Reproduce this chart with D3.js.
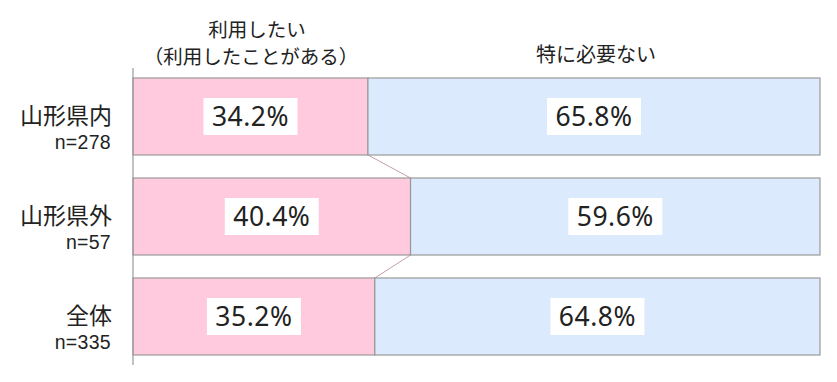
<!DOCTYPE html>
<html><head><meta charset="utf-8">
<script src="https://cdn.jsdelivr.net/npm/d3@7"></script>
<style>body{margin:0;background:#fff;}svg{display:block;}</style>
</head><body>
<script>
const categories = ["山形県内", "山形県外", "全体"];
const sampleSizes = ["n=278", "n=57", "n=335"];
const seriesNames = [["利用したい", "（利用したことがある）"], ["特に必要ない"]];
const wantValues = [34.2, 40.4, 35.2];
const noNeedValues = [65.8, 59.6, 64.8];

const W = 837, H = 382;
const font = "'Noto Sans CJK JP', 'Noto Sans', sans-serif";
const latin = "'Noto Sans', 'Noto Sans CJK JP', sans-serif";
const small = "'Liberation Sans', 'Noto Sans', sans-serif";
const svg = d3.select("body").append("svg").attr("width", W).attr("height", H);

const x = d3.scaleLinear().domain([0, 100]).range([133, 820]);
const y = d3.scaleBand().domain(categories).range([68, 365]).paddingInner(0.23).paddingOuter(0.1);

const pink = "#ffcade", blue = "#dbeafc", stroke = "#999999";

// connectors
for (let i = 0; i < categories.length - 1; i++) {
  svg.append("line")
    .attr("x1", x(wantValues[i])).attr("y1", y(categories[i]) + y.bandwidth())
    .attr("x2", x(wantValues[i + 1])).attr("y2", y(categories[i + 1]))
    .attr("stroke", "#c4a0a8").attr("stroke-width", 1);
}

categories.forEach((c, i) => {
  const y0 = y(c), h = y.bandwidth();
  svg.append("rect").attr("x", x(0)).attr("y", y0).attr("width", x(wantValues[i]) - x(0)).attr("height", h)
    .attr("fill", pink).attr("stroke", stroke).attr("stroke-width", 1.2);
  svg.append("rect").attr("x", x(wantValues[i])).attr("y", y0).attr("width", x(wantValues[i] + noNeedValues[i]) - x(wantValues[i])).attr("height", h)
    .attr("fill", blue).attr("stroke", stroke).attr("stroke-width", 1.2);

  const labels = [
    { cx: (x(0) + x(wantValues[i])) / 2, t: wantValues[i].toFixed(1) + "%" },
    { cx: (x(wantValues[i]) + x(100)) / 2, t: noNeedValues[i].toFixed(1) + "%" }
  ];
  labels.forEach(l => {
    const g = svg.append("g");
    g.append("rect").attr("x", l.cx - 47).attr("y", y0 + h / 2 - 18.5).attr("width", 94).attr("height", 37).attr("fill", "#fff");
    g.append("text").attr("x", l.cx).attr("y", y0 + h / 2 + 9.5).attr("text-anchor", "middle")
      .attr("font-family", latin).attr("font-size", 26.5).attr("letter-spacing", 0.5)
      .attr("fill", "#222").text(l.t);
  });

  svg.append("text").attr("text-anchor", "end").attr("fill", "#222")
    .attr("x", 112).attr("y", y0 + h / 2 + 7.5)
    .attr("font-family", font).attr("font-size", 23).text(c);
  svg.append("text").attr("text-anchor", "end").attr("fill", "#222")
    .attr("x", 111).attr("y", y0 + h / 2 + 32)
    .attr("font-family", small).attr("font-size", 19.5).attr("letter-spacing", 0.3).text(sampleSizes[i]);
});

// axis line
svg.append("line").attr("x1", 133).attr("x2", 133).attr("y1", 68).attr("y2", 365).attr("stroke", stroke).attr("stroke-width", 1.2);

// headers
svg.append("text").attr("text-anchor", "middle").attr("font-family", font)
  .attr("font-size", 19.5).attr("fill", "#222").attr("x", 257).attr("y", 36.5).text(seriesNames[0][0]);
svg.append("text").attr("text-anchor", "middle").attr("font-family", font)
  .attr("font-size", 19.5).attr("fill", "#222").attr("x", 251).attr("y", 64).text(seriesNames[0][1]);
svg.append("text").attr("x", 596).attr("y", 62).attr("text-anchor", "middle").attr("font-family", font)
  .attr("font-size", 20).attr("fill", "#222").text(seriesNames[1][0]);
</script>
</body></html>
